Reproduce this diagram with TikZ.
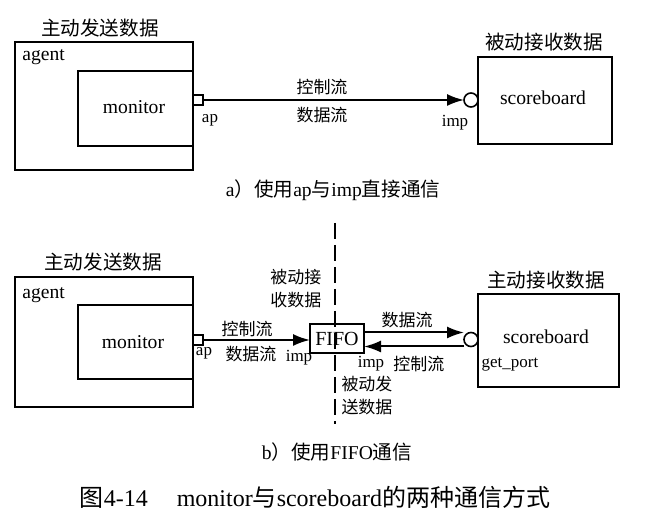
\documentclass[tikz,border=0pt]{standalone}
\usepackage{fontspec}
\setmainfont{Liberation Serif}
\newfontfamily\cjk{Noto Sans CJK SC}
\usetikzlibrary{arrows.meta}

\begin{document}
\begin{tikzpicture}[x=0.5pt,y=-0.5pt,line join=miter,
  box/.style={draw,line width=1pt,inner sep=0pt,outer sep=0pt},
  port/.style={draw,line width=0.8pt,minimum size=5pt,inner sep=0pt,outer sep=0pt},
  sock/.style={draw,circle,line width=0.8pt,minimum size=7pt,inner sep=0pt,outer sep=0pt},
  flow/.style={line width=1pt,-{Latex[length=8.5pt,width=6pt]}},
  lbl/.style={inner sep=0pt,font=\fontsize{9.8}{11}\selectfont},
  tag/.style={inner sep=0pt,font=\fontsize{8.5}{11.5}\selectfont,align=center}]
  \useasboundingbox (0,0) rectangle (655,522);

  % a) ap and imp
  \begin{scope}
    \node[box,minimum width=89pt,minimum height=64pt] (agentA) at (104,106) {};
    \node[box,minimum width=57.5pt,minimum height=37.5pt] (monA) at (135.5,108.5) {};
    \node[port] (apA) at (198,100) {};
    \node[sock] (impA) at (471,100) {};
    \node[box,minimum width=67pt,minimum height=43.5pt] (sbA) at (545,100.5) {};
    \draw[flow] (apA.east) -- (impA.west);

    \node[lbl] (sendA) at (100,28) {\cjk 主动发送数据};
    \node[lbl,anchor=west] (agentTxtA) at (22,57) {agent};
    \node[lbl] (monTxtA) at (134,107) {monitor};
    \node[tag] (apTxtA) at (210,120) {ap};
    \node[tag] (ctrlA) at (322,87) {\cjk 控制流};
    \node[tag] (dataA) at (322,115) {\cjk 数据流};
    \node[tag] (impTxtA) at (455,123) {imp};
    \node[lbl] (sbTxtA) at (543,98) {scoreboard};
    \node[lbl] (recvA) at (544,42) {\cjk 被动接收数据};
    \node[lbl] (capA) at (333,190) {a{\cjk ）使用}ap{\cjk 与}imp{\cjk 直接通信}};
  \end{scope}

  % b) FIFO
  \begin{scope}
    \node[box,minimum width=89pt,minimum height=65pt] (agentB) at (104,342) {};
    \node[box,minimum width=57.5pt,minimum height=37pt] (monB) at (135.5,342) {};
    \node[port] (apB) at (198,340) {};
    \node[box,minimum width=27pt,minimum height=14.5pt,font=\fontsize{10}{12}\selectfont] (fifo) at (337,338.5) {FIFO};
    \node[sock] (impB) at (471,339.5) {};
    \node[box,minimum width=70.5pt,minimum height=46.5pt] (sbB) at (548.5,340.5) {};

    \coordinate (cutT) at (335,223);
    \coordinate (cutB) at (335,424);
    \draw[line width=1pt,dash pattern=on 8pt off 3pt] (cutT) -- (cutB);

    \draw[flow] (apB.east) -- (apB.east -| fifo.west);
    \draw[flow] (fifo.east |- impB.north) -- (impB.west |- impB.north);
    \draw[flow] (impB.west |- impB.south) -- (fifo.east |- impB.south);

    \node[lbl] (sendB) at (103,262) {\cjk 主动发送数据};
    \node[lbl,anchor=west] (agentTxtB) at (22,295) {agent};
    \node[lbl] (monTxtB) at (133,342) {monitor};
    \node[tag] (apTxtB) at (204,353) {ap};
    \node[tag] (ctrlB1) at (247,329) {\cjk 控制流};
    \node[tag] (dataB1) at (251,354) {\cjk 数据流};
    \node[tag] (impTxtB1) at (299,358) {imp};
    \node[tag] (recvFifo) at (296,288.5) {\cjk 被动接\\\cjk 收数据};
    \node[tag] (sendFifo) at (367,396) {\cjk 被动发\\\cjk 送数据};
    \node[tag] (dataB2) at (407,320) {\cjk 数据流};
    \node[tag] (impTxtB2) at (371,364) {imp};
    \node[tag] (ctrlB2) at (419,364) {\cjk 控制流};
    \node[lbl] (sbTxtB) at (546,337) {scoreboard};
    \node[tag] (getTxt) at (510,365) {get\_port};
    \node[lbl] (recvB) at (546,280) {\cjk 主动接收数据};
    \node[lbl] (capB) at (337,452) {b{\cjk ）使用}FIFO{\cjk 通信}};
  \end{scope}

  \node[inner sep=0pt,font=\fontsize{12}{14}\selectfont] (title) at (315,497)
    {{\cjk 图}4-14\hspace{1.2em}monitor{\cjk 与}scoreboard{\cjk 的两种通信方式}};
\end{tikzpicture}
\end{document}
